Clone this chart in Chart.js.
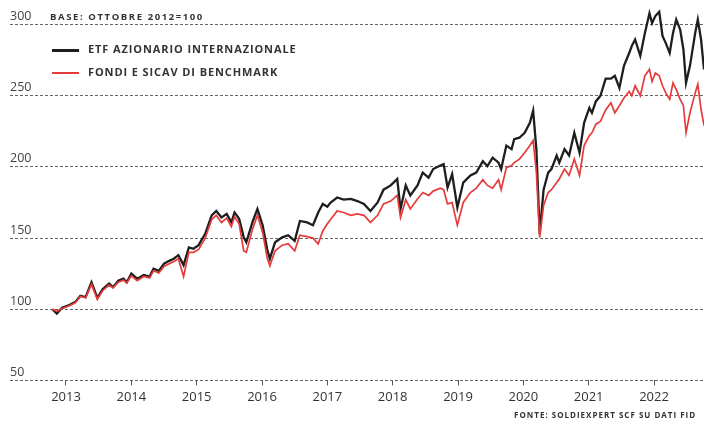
<!DOCTYPE html>
<html>
<head>
<meta charset="utf-8">
<script src="https://cdn.jsdelivr.net/npm/chart.js@4.4.1/dist/chart.umd.min.js"></script>
<style>
  body { margin: 0; background: #fff; }
  #wrap { position: relative; width: 704px; height: 424px; overflow: hidden; font-family: "Open Sans", sans-serif; color: #333; }
  .note { position: absolute; font-weight: 700; white-space: nowrap; }
  .key { position: absolute; left: 52px; width: 27px; height: 2.5px; }
</style>
</head>
<body>
<div id="wrap">
  <canvas id="grafico" width="704" height="424"></canvas>
  <div class="note" style="left:50px; top:10px; font-size:9.5px; letter-spacing:1.6px;">BASE: OTTOBRE 2012=100</div>
  <div class="key" style="top:49px; background:#1e1e1e;"></div>
  <div class="note" style="left:88px; top:41px; font-size:11px; letter-spacing:0.9px;">ETF AZIONARIO INTERNAZIONALE</div>
  <div class="key" style="top:71.5px; background:#e63b3b;"></div>
  <div class="note" style="left:88px; top:64px; font-size:11px; letter-spacing:0.9px;">FONDI E SICAV DI BENCHMARK</div>
  <div class="note" style="left:514px; top:409px; font-size:8px; letter-spacing:1px;">FONTE: SOLDIEXPERT SCF SU DATI FID</div>
</div>
<script>
// date in anni decimali (ottobre 2012 -> ottobre 2022)
var dates = [
  2012.79, 2012.86, 2012.94, 2013.05, 2013.14, 2013.22, 2013.30, 2013.39, 2013.48, 2013.56,
  2013.66, 2013.72, 2013.80, 2013.88, 2013.93, 2014.00, 2014.09, 2014.19, 2014.28, 2014.34,
  2014.42, 2014.50, 2014.58, 2014.65, 2014.72, 2014.80, 2014.88, 2014.95, 2015.03, 2015.13,
  2015.23, 2015.30, 2015.38, 2015.46, 2015.53, 2015.58, 2015.65, 2015.72, 2015.76, 2015.86,
  2015.93, 2016.01, 2016.08, 2016.12, 2016.20, 2016.31, 2016.40, 2016.50, 2016.58, 2016.69,
  2016.78, 2016.86, 2016.93, 2017.00, 2017.05, 2017.15, 2017.25, 2017.36, 2017.46, 2017.56,
  2017.66, 2017.77, 2017.86, 2017.97, 2018.07, 2018.12, 2018.20, 2018.27, 2018.38, 2018.46,
  2018.55, 2018.62, 2018.73, 2018.78, 2018.84, 2018.91, 2018.99, 2019.08, 2019.19, 2019.28,
  2019.38, 2019.45, 2019.53, 2019.62, 2019.66, 2019.74, 2019.82, 2019.86, 2019.94, 2020.02,
  2020.10, 2020.15, 2020.20, 2020.25, 2020.31, 2020.38, 2020.43, 2020.51, 2020.55, 2020.63,
  2020.70, 2020.78, 2020.86, 2020.93, 2021.01, 2021.05, 2021.11, 2021.18, 2021.26, 2021.34,
  2021.40, 2021.47, 2021.54, 2021.62, 2021.66, 2021.71, 2021.79, 2021.86, 2021.93, 2021.97,
  2022.02, 2022.08, 2022.13, 2022.18, 2022.24, 2022.29, 2022.34, 2022.40, 2022.45, 2022.49,
  2022.55, 2022.63, 2022.67, 2022.72, 2022.765
];

var etf = [
  100, 97, 101, 103, 105, 109.5, 108.5, 119, 108, 114,
  118, 115.5, 120, 121.5, 119, 125, 121.5, 124, 123, 128.5,
  127, 132, 134, 135.5, 138, 131, 143.5, 142.5, 145, 153,
  166, 169, 164.5, 167, 161, 168, 163.5, 150.5, 147, 162,
  170.5, 159, 142, 135.5, 147, 150.5, 152, 148, 162, 161,
  159, 168, 174, 172, 175, 178.5, 177, 177.5, 176, 174,
  169, 175, 184, 187, 191.5, 170.5, 187, 180, 187, 196,
  192.5, 198.5, 201, 202, 185.5, 195, 171.5, 189, 194, 196,
  204, 200.5, 206.5, 203, 198.5, 215, 212.5, 219.5, 220.5, 224,
  231, 239.5, 212, 153, 184, 196, 198.5, 208, 203, 212.5,
  208, 224, 210, 231, 241.5, 238, 246, 250, 262, 262,
  264, 255.5, 271, 280, 285, 289.5, 278, 294, 308, 301,
  306, 309, 292, 287, 280, 294, 303.5, 296.5, 282.5, 259,
  271, 294, 303.5, 289.5, 268.5
];

var fondi = [
  100, 98.5, 100.5, 102.5, 104.5, 109, 108, 117.5, 107, 113,
  117, 115, 119, 120.5, 118.5, 123.5, 120, 123, 122, 127,
  125.5, 130, 132, 133.5, 135.5, 123, 140, 140, 142, 150,
  163, 166, 161, 164, 158, 165, 160, 141, 140, 157,
  166, 154, 136, 130.5, 141, 145, 146, 141, 152, 151,
  150, 146, 155, 160, 163, 169, 168, 166, 167, 166,
  161, 166, 174, 176, 180, 164.5, 177, 170.5, 177.5, 182,
  180, 183, 185, 184, 174, 175, 159, 175, 182, 185,
  191, 187, 185, 191, 184, 199.5, 201, 203, 205.5, 210,
  215, 218.5, 196, 150.5, 173, 182, 184, 189, 191.5, 198.5,
  194, 205.5, 194, 215, 222, 224, 230, 232, 240, 245,
  238, 243, 248.5, 253, 250, 257, 250, 264, 268.5, 260,
  266, 264, 257, 252, 247.5, 259, 254.5, 247.5, 243, 224,
  238, 252, 258, 240.5, 229
];

var yearTicks = [2013, 2014, 2015, 2016, 2017, 2018, 2019, 2020, 2021, 2022];
var valueTicks = [50, 100, 150, 200, 250, 300];

function points(values) {
  return values.map(function (v, i) { return { x: dates[i], y: v }; });
}

var canvas = document.getElementById('grafico');

var config = {
  type: 'line',
  data: {
    datasets: [{
      label: 'FONDI E SICAV DI BENCHMARK',
      data: points(fondi),
      borderColor: '#e63b3b',
      borderWidth: 1.7,
      pointRadius: 0,
      order: 0
    }, {
      label: 'ETF AZIONARIO INTERNAZIONALE',
      data: points(etf),
      borderColor: '#1e1e1e',
      borderWidth: 2.3,
      pointRadius: 0,
      order: 1
    }]
  },
  options: {
    responsive: false,
    animation: false,
    devicePixelRatio: 1,
    layout: { padding: { left: 10, right: 0, top: 0, bottom: 15 } },
    plugins: { legend: { display: false }, tooltip: { enabled: false } },
    scales: {
      x: {
        type: 'linear',
        min: 2012.143,
        max: 2022.765,
        afterBuildTicks: function (axis) {
          axis.ticks = yearTicks.map(function (v) { return { value: v }; });
        },
        grid: { drawOnChartArea: false, drawTicks: true, tickLength: 5, color: '#555' },
        border: { display: false },
        ticks: {
          padding: 4,
          color: '#333',
          font: { family: 'Open Sans', size: 13 },
          callback: function (value) { return String(value); }
        }
      },
      y: {
        min: 50,
        max: 312,
        afterBuildTicks: function (axis) {
          axis.ticks = valueTicks.map(function (v) { return { value: v }; });
        },
        grid: { color: '#666', lineWidth: 1, drawTicks: false },
        border: { display: false, dash: [3, 2] },
        ticks: {
          mirror: true,
          padding: 0,
          labelOffset: -8,
          color: '#444',
          font: { family: 'Open Sans', size: 12.5 }
        }
      }
    }
  }
};

var grafico = new Chart(canvas, config);
</script>
</body>
</html>
